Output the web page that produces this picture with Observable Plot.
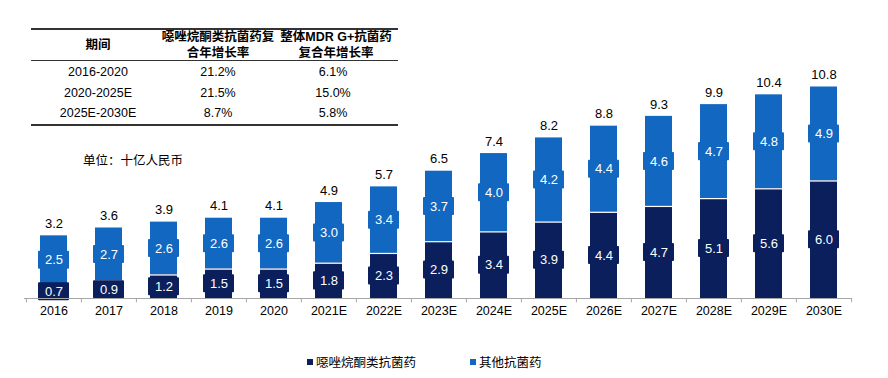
<!DOCTYPE html>
<html>
<head>
<meta charset="utf-8">
<script src="https://cdn.jsdelivr.net/npm/d3@7"></script>
<script src="https://cdn.jsdelivr.net/npm/@observablehq/plot@0.6"></script>
<style>
  html, body { margin: 0; padding: 0; background: #fff; }
  body { font-family: "Liberation Sans", Arial, "Noto Sans CJK SC", sans-serif; color: #000; }
  #wrap { position: relative; width: 888px; height: 378px; overflow: hidden; }
  #chart { position: absolute; left: 0; top: 0; }
  #overlay { position: absolute; left: 0; top: 0; width: 888px; height: 378px; pointer-events: none; }
  .t { position: absolute; transform: translate(-50%, -50%); white-space: nowrap; font-size: 12.5px; line-height: 1; }
  .h { font-weight: bold; font-size: 12.5px; text-align: center; line-height: 16px; }
  .line { position: absolute; background: #333; }
  .unit { position: absolute; left: 83px; top: 150px; font-size: 12.5px; white-space: nowrap; }
  .leg { position: absolute; top: 352px; font-size: 12.5px; white-space: nowrap; display: flex; align-items: center; }
  .sw { display: inline-block; width: 6px; height: 6px; margin-right: 3px; }
</style>
</head>
<body>
<div id="wrap">
  <div id="chart"></div>
  <div id="overlay"></div>
</div>
<script>
// ---- data ----
const years = ["2016","2017","2018","2019","2020","2021E","2022E","2023E","2024E","2025E","2026E","2027E","2028E","2029E","2030E"];
const oxazolidinone = [0.7,0.9,1.2,1.5,1.5,1.8,2.3,2.9,3.4,3.9,4.4,4.7,5.1,5.6,6.0];
const otherDrugs = [2.5,2.7,2.6,2.6,2.6,3.0,3.4,3.7,4.0,4.2,4.4,4.6,4.7,4.8,4.9];
const totals = [3.2,3.6,3.9,4.1,4.1,4.9,5.7,6.5,7.4,8.2,8.8,9.3,9.9,10.4,10.8];

const seriesNames = ["噁唑烷酮类抗菌药", "其他抗菌药"];
const tableHeader = ["期间", "噁唑烷酮类抗菌药复\n合年增长率", "整体MDR G+抗菌药\n复合年增长率"];
const tablePeriods = ["2016-2020", "2020-2025E", "2025E-2030E"];
const tableOxa = ["21.2%", "21.5%", "8.7%"];
const tableTotal = ["6.1%", "15.0%", "5.8%"];
const unitLabel = "单位：十亿人民币";

const DARK = "#0a1f5c";
const LIGHT = "#1267c0";

const rows = years.map((year, i) => ({
  year,
  oxa: oxazolidinone[i],
  other: otherDrugs[i],
  total: totals[i]
}));

const boxHalf = 0.46;
const step = (852 - 24) / years.length;

const chart = Plot.plot({
  width: 888,
  height: 378,
  marginLeft: 24,
  marginRight: 36,
  marginTop: 63,
  marginBottom: 80,
  style: { fontFamily: '"Liberation Sans", Arial, "Noto Sans CJK SC", sans-serif', fontSize: "12.5px", background: "white" },
  x: { domain: years, paddingInner: 0.51, paddingOuter: 0.255, axis: null, label: null },
  y: { domain: [0, 12], axis: null },
  marks: [
    Plot.barY(rows, { x: "year", y1: "oxa", y2: "total", fill: LIGHT }),
    Plot.barY(rows, { x: "year", y1: 0, y2: "oxa", fill: DARK }),
    Plot.tickY(rows, { x: "year", y: "oxa", stroke: "white", strokeWidth: 1.2 }),
    // label boxes
    Plot.barY(rows, { x: "year", y1: d => (d.oxa + d.total) / 2 - boxHalf, y2: d => (d.oxa + d.total) / 2 + boxHalf, fill: LIGHT, insetLeft: -2, insetRight: -2, rx: 1 }),
    Plot.barY(rows, { x: "year", y1: d => d.oxa / 2 - boxHalf, y2: d => d.oxa / 2 + boxHalf, fill: DARK, insetLeft: -2, insetRight: -2, rx: 1 }),
    Plot.text(rows, { x: "year", y: d => (d.oxa + d.total) / 2, text: d => d.other.toFixed(1), fill: "white", fontSize: 13 }),
    Plot.text(rows, { x: "year", y: d => d.oxa / 2, text: d => d.oxa.toFixed(1), fill: "white", fontSize: 13 }),
    Plot.text(rows, { x: "year", y: "total", text: d => d.total.toFixed(1), fill: "black", fontSize: 13, dy: -12 }),
    // axis
    Plot.ruleY([0], { stroke: "#a6a6a6", strokeWidth: 1 }),
    Plot.ruleX(years, { x: d => d, y1: 0, y2: -0.22, dx: -step / 2, stroke: "#a6a6a6" }),
    Plot.ruleX([years[years.length - 1]], { x: d => d, y1: 0, y2: -0.22, dx: step / 2, stroke: "#a6a6a6" }),
    Plot.axisX({ domain: years, tickSize: 0, tickPadding: 8, fontSize: 12.5, fill: "black", label: null })
  ]
});
document.getElementById("chart").appendChild(chart);

// ---- overlay: table, unit, legend ----
const ov = document.getElementById("overlay");
function add(html) { ov.insertAdjacentHTML("beforeend", html); }

// table lines
add(`<div class="line" style="left:31px;top:28px;width:367px;height:1.5px"></div>`);
add(`<div class="line" style="left:31px;top:59.5px;width:367px;height:1.2px"></div>`);
add(`<div class="line" style="left:31px;top:124px;width:367px;height:1.5px"></div>`);

const colX = [98, 218, 336];
tableHeader.forEach((h, i) => {
  add(`<div class="t h" style="left:${colX[i]}px;top:45px">${h.replace("\n", "<br>")}</div>`);
});
const rowY = [72, 93, 113];
tablePeriods.forEach((p, r) => {
  add(`<div class="t" style="left:${colX[0]}px;top:${rowY[r]}px">${p}</div>`);
  add(`<div class="t" style="left:${colX[1]}px;top:${rowY[r]}px">${tableOxa[r]}</div>`);
  add(`<div class="t" style="left:${colX[2] - 3}px;top:${rowY[r]}px">${tableTotal[r]}</div>`);
});

add(`<div class="unit">${unitLabel}</div>`);

add(`<div class="leg" style="left:307px"><span class="sw" style="background:${DARK}"></span>${seriesNames[0]}</div>`);
add(`<div class="leg" style="left:470px"><span class="sw" style="background:${LIGHT}"></span>${seriesNames[1]}</div>`);
</script>
</body>
</html>
